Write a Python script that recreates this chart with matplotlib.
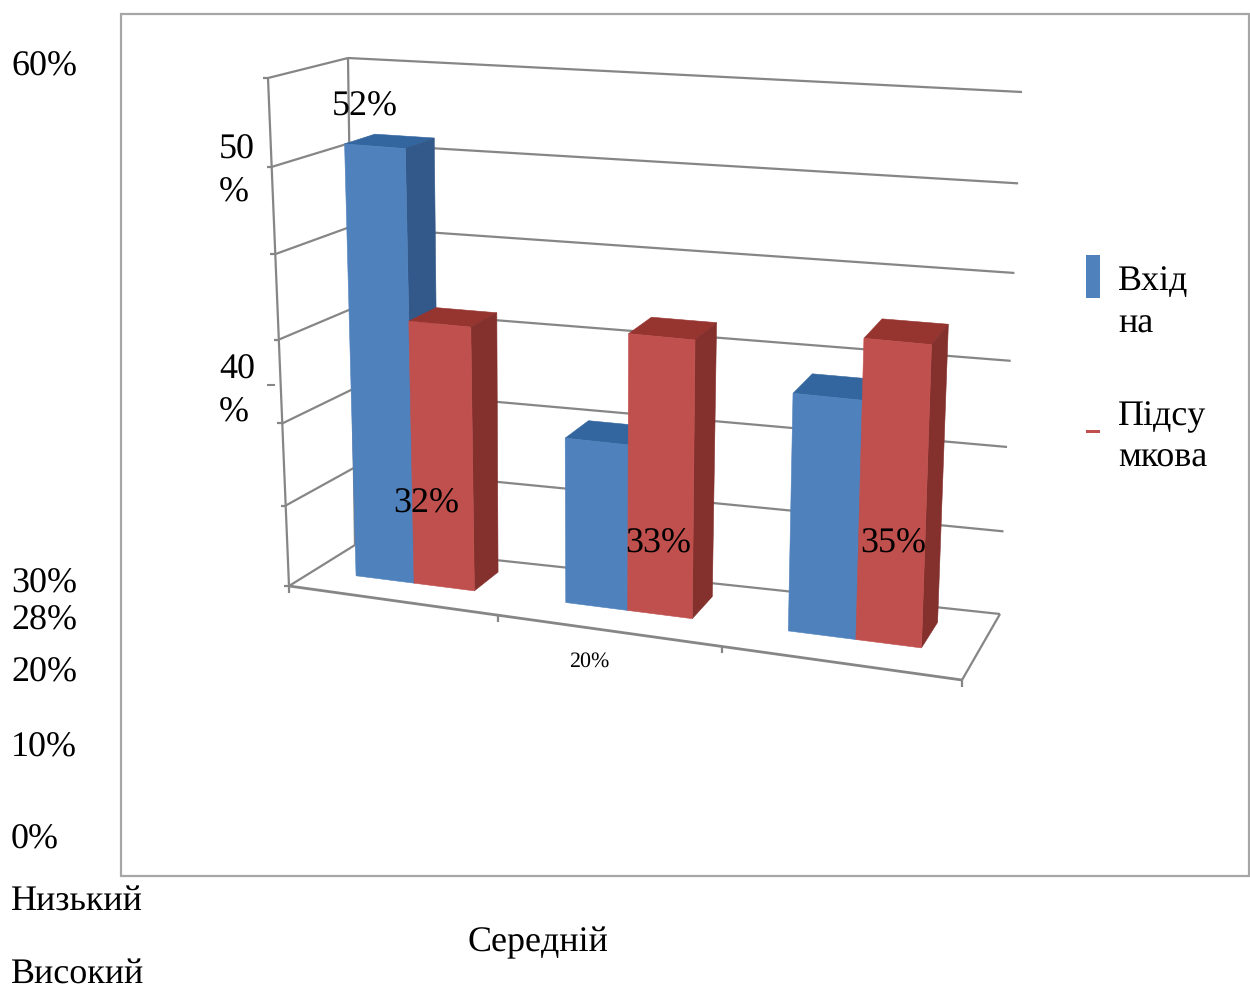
import matplotlib.pyplot as plt
from matplotlib.patches import Polygon, Rectangle
import numpy as np

plt.rcParams['font.family'] = ['Liberation Serif', 'DejaVu Serif']
plt.rcParams['text.hinting'] = 'no_hinting'
plt.rcParams['text.hinting_factor'] = 1

# Chart data
categories = ['Низький', 'Середній', 'Високий']
vhidna = [52, 20, 28]
pidsumkova = [32, 33, 35]
legend_lines = [['Вхід', 'на'], ['Підсу', 'мкова']]
axis_labels = ['60%', '50\n%', '40\n%', '30%', '20%', '10%', '0%']
grid_levels = [0, 10, 20, 30, 40, 50, 60]

# Colours: front, side and top faces of each series
BLUE = ('#4F81BD', '#33598A', '#33659E')
RED = ('#C0504D', '#84302D', '#963430')
GRID = '#868686'

# Box corners on screen: floor (v=0) and ceiling (v=60)
FLOOR = {'fl': (289, 586), 'fr': (962, 680), 'bl': (355, 545), 'br': (1000, 614)}
CEIL = {'fl': (268, 78), 'fr': (982, 135), 'bl': (348, 58), 'br': (1022, 92)}
VMAX = 60

# Horizontal extents of each group along the floor: blue left, split, red right
GROUP_U = [(0.0634, 0.151, 0.242), (0.380, 0.4735, 0.571), (0.716, 0.818, 0.917)]
TICK_U = [0, 0.31, 0.643, 1]
D_FRONT, D_BACK = 0.38, 0.78


def corner_mix(c, u, d):
    front = (1 - u) * np.array(c['fl']) + u * np.array(c['fr'])
    back = (1 - u) * np.array(c['bl']) + u * np.array(c['br'])
    return (1 - d) * front + d * back


def project(u, d, v):
    # heights bunch slightly towards the floor
    t = v / VMAX
    t = t - 0.06 * t * (1 - t)
    return (1 - t) * corner_mix(FLOOR, u, d) + t * corner_mix(CEIL, u, d)


fig = plt.figure(figsize=(12.5, 9.92), dpi=100)
ax = fig.add_axes([0, 0, 1, 1])
ax.set_xlim(0, 1250)
ax.set_ylim(992, 0)
ax.axis('off')

# Outer frame
ax.add_patch(Rectangle((121, 14), 1128, 862, fill=False, ec='#A6A6A6', lw=1.6))


def seg(a, b, color=GRID, lw=1.6):
    ax.plot([a[0], b[0]], [a[1], b[1]], color=color, lw=lw, solid_capstyle='butt', zorder=1)


# Gridlines on the back and left walls
for lv in grid_levels:
    seg(project(0, 0, lv), project(0, 1, lv))
    seg(project(0, 1, lv), project(1, 1, lv))
    tick = project(0, 0, lv)
    seg(tick + np.array([-5, 0]), tick)

seg(project(0, 0, 0), project(0, 0, VMAX))
seg(project(0, 1, 0), project(0, 1, VMAX))
seg(project(0, 0, 0), project(1, 0, 0), lw=2)
seg(project(1, 0, 0), project(1, 1, 0))
for u in TICK_U:
    p = project(u, 0, 0)
    seg(p, p + np.array([0, 7]))

# Stray short dash beside the axis
seg((267, 385), (275, 385), lw=1.5)


def bar(u0, u1, value, colors):
    front, side, top = colors
    faces = [
        ([(u0, D_FRONT, value), (u0, D_BACK, value), (u1, D_BACK, value), (u1, D_FRONT, value)], top),
        ([(u1, D_FRONT, 0), (u1, D_BACK, 0), (u1, D_BACK, value), (u1, D_FRONT, value)], side),
        ([(u0, D_FRONT, 0), (u1, D_FRONT, 0), (u1, D_FRONT, value), (u0, D_FRONT, value)], front),
    ]
    for pts, c in faces:
        ax.add_patch(Polygon([project(*p) for p in pts], closed=True, fc=c, ec=c, lw=0.4, zorder=2))


for (left, mid, right), a, b in zip(GROUP_U, vhidna, pidsumkova):
    bar(left, mid, a, BLUE)
    bar(mid, right, b, RED)

TXT = dict(fontsize=25.6, color='black', va='baseline', zorder=5)

# Left-hand value labels, scattered by the document layout
for label, (x, y) in zip(axis_labels, [(11, 76), (219, 159), (219, 379), (11, 593),
                                       (11, 682), (11, 757), (11, 849)]):
    parts = label.split('\n')
    for i, part in enumerate(parts):
        ax.text(x, y + i * 43, part, **TXT)

# Data labels
for val, (x, y) in zip(vhidna + pidsumkova, [(332, 116), (569, 667), (11, 630),
                                             (393, 513), (625, 553), (860, 553)]):
    size = 16 if val == vhidna[1] else 25.6
    ax.text(x, y, f'{val}%', **{**TXT, 'fontsize': size})

# Category labels
for name, (x, y) in zip(categories, [(11, 911), (468, 951), (11, 984)]):
    ax.text(x, y, name, **TXT)

# Legend
ax.add_patch(Rectangle((1086, 255), 14, 43, fc=BLUE[0], ec='none', zorder=3))
ax.add_patch(Rectangle((1086, 430), 14, 3, fc=RED[0], ec='none', zorder=3))
for lines, ys in zip(legend_lines, [(290, 333), (425, 467)]):
    for text, y in zip(lines, ys):
        ax.text(1118, y, text, **TXT)

fig.savefig('out.png', dpi=100, facecolor='white')
